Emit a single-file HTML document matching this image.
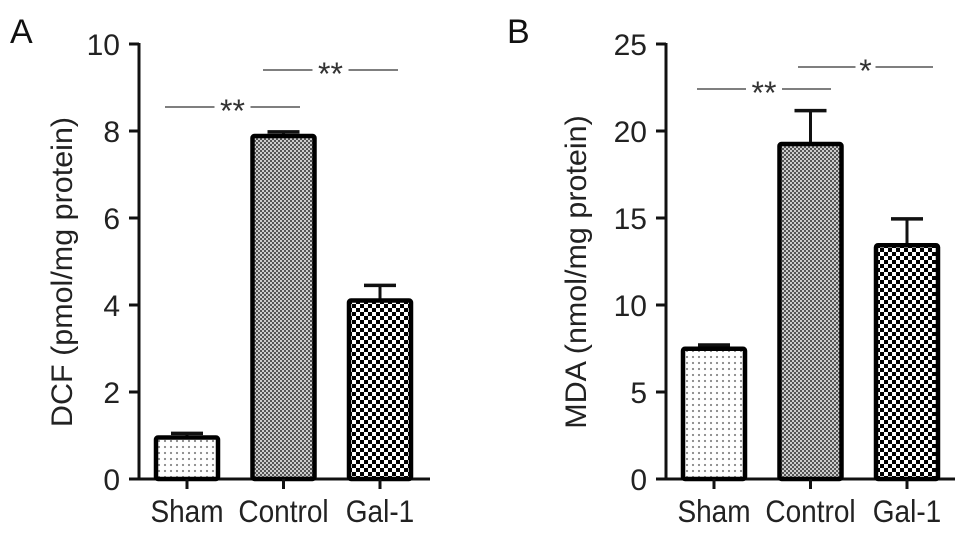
<!DOCTYPE html>
<html><head><meta charset="utf-8">
<style>
html,body{margin:0;padding:0;background:#fff;}
svg{display:block;font-family:"Liberation Sans",Arial,sans-serif;}
</style></head>
<body>
<svg id="chart" width="969" height="535" viewBox="0 0 969 535" xmlns="http://www.w3.org/2000/svg">
<defs>
<pattern id="pDots" width="6" height="6" patternUnits="userSpaceOnUse">
<rect width="6" height="6" fill="#fff"/><circle cx="3" cy="3" r="1.1" fill="#888"/>
</pattern>
<pattern id="pFine" width="4" height="4" patternUnits="userSpaceOnUse">
<rect width="4" height="4" fill="#555"/><rect x="0" y="0" width="2" height="2" fill="#ccc"/><rect x="2" y="2" width="2" height="2" fill="#ccc"/>
</pattern>
<pattern id="pCheck" width="8" height="8" patternUnits="userSpaceOnUse">
<rect width="8" height="8" fill="#fff"/><rect x="0" y="0" width="4" height="4" fill="#000"/><rect x="4" y="4" width="4" height="4" fill="#000"/>
</pattern>
</defs>
<g id="layer"></g>
</svg>
<script>
const categories = ["Sham", "Control", "Gal-1"];
const valuesA = [1.0, 7.93, 4.15];
const errorsA = [0.05, 0.05, 0.3];
const ticksA = [0, 2, 4, 6, 8, 10];
const valuesB = [7.6, 19.37, 13.55];
const errorsB = [0.1, 1.8, 1.4];
const ticksB = [0, 5, 10, 15, 20, 25];

const NS = "http://www.w3.org/2000/svg";
const layer = document.getElementById("layer");
function mk(tag, attrs, parent) {
  const e = document.createElementNS(NS, tag);
  for (const k in attrs) e.setAttribute(k, attrs[k]);
  (parent || layer).appendChild(e);
  return e;
}
const fills = ["url(#pDots)", "url(#pFine)", "url(#pCheck)"];

function panel(cfg) {
  const g = mk("g", {});
  
  
  const y0 = 479, yTop = 44;
  const maxV = cfg.ticks[cfg.ticks.length - 1];
  const yS = v => y0 - (v / maxV) * (y0 - yTop);
  const xS = i => cfg.centers0 + i * cfg.step;
  const bw = 66;
  const L = mk("text", {x: cfg.letterX, y: 43, "font-size": 34, fill: "#111"}, g);
  L.textContent = cfg.letter;
  
  
  const ya = mk("line", {x1: cfg.axisX, y1: yTop - 1, x2: cfg.axisX, y2: y0 + 1.5, stroke: "#111", "stroke-width": 3}, g);
  
  
  cfg.ticks.forEach(t => {
    const y = yS(t);
    const tk = mk("line", {x1: cfg.axisX - 10, y1: y, x2: cfg.axisX, y2: y, stroke: "#111", "stroke-width": 3}, g);
    
    
    const tl = mk("text", {x: cfg.axisX - 19, y: y + 11, "font-size": 30, "text-anchor": "end", fill: "#222"}, g);
    tl.textContent = t;
    
    
  });
  const yt = mk("text", {x: 0, y: 0, "font-size": 25, "text-anchor": "middle", fill: "#222",
    transform: "translate(" + cfg.titleX + ",272) rotate(-90) scale(1.22,1.2)"}, g);
  yt.textContent = cfg.title;
  
  
  const xa = mk("line", {x1: cfg.axisX - 1.5, y1: y0, x2: cfg.xEnd, y2: y0, stroke: "#111", "stroke-width": 3}, g);
  
  
  categories.forEach((c, i) => {
    const cx = xS(i);
    const v = cfg.values[i], e = cfg.errors[i];
    const eb = mk("line", {x1: cx, y1: yS(v), x2: cx, y2: yS(v + e), stroke: "#111", "stroke-width": 3}, g);
    
    
    const cap = mk("line", {x1: cx - 16, y1: yS(v + e), x2: cx + 16, y2: yS(v + e), stroke: "#111", "stroke-width": 3.5}, g);
    
    
    const r = mk("rect", {x: cx - bw / 2 + 2, y: yS(v) + 2, width: bw - 4, height: y0 - yS(v) - 2, fill: fills[i], stroke: "#000", "stroke-width": 4.5, rx: 2}, g);
    
    
    const tk = mk("line", {x1: cx, y1: y0, x2: cx, y2: y0 + 10, stroke: "#111", "stroke-width": 3}, g);
    
    
    const tl = mk("text", {x: 0, y: 0, "font-size": 28, "text-anchor": "middle", fill: "#222",
      transform: "translate(" + cx + ",522) scale(1,1.12)"}, g);
    tl.textContent = c;
    
    
  });
  cfg.sig.forEach(s => {
    const ln = mk("line", {x1: s.x1, y1: s.y, x2: s.x2, y2: s.y, stroke: "#555", "stroke-width": 1.6}, g);
    
    
    const mid = (s.x1 + s.x2) / 2;
    const w = s.t.length * 16 + 4;
    mk("rect", {x: mid - w / 2, y: s.y - 7, width: w, height: 14, fill: "#fff"}, g);
    const st = mk("text", {x: mid, y: s.y + 15, "font-size": 32, "text-anchor": "middle", fill: "#333"}, g);
    st.textContent = s.t;
    
    
  });
}

panel({name: "panel-a-dcf", letter: "A", letterX: 10, axisX: 139, xEnd: 430, titleX: 72,
  title: "DCF (pmol/mg protein)", ticks: ticksA, values: valuesA, errors: errorsA,
  centers0: 187, step: 96.5,
  sig: [{x1: 165, x2: 300, y: 107, t: "**"}, {x1: 263, x2: 398, y: 70, t: "**"}]});
panel({name: "panel-b-mda", letter: "B", letterX: 507, axisX: 666, xEnd: 955, titleX: 586,
  title: "MDA (nmol/mg protein)", ticks: ticksB, values: valuesB, errors: errorsB,
  centers0: 714, step: 96.5,
  sig: [{x1: 697, x2: 831, y: 89, t: "**"}, {x1: 798, x2: 933, y: 67, t: "*"}]});
</script>
</body></html>
